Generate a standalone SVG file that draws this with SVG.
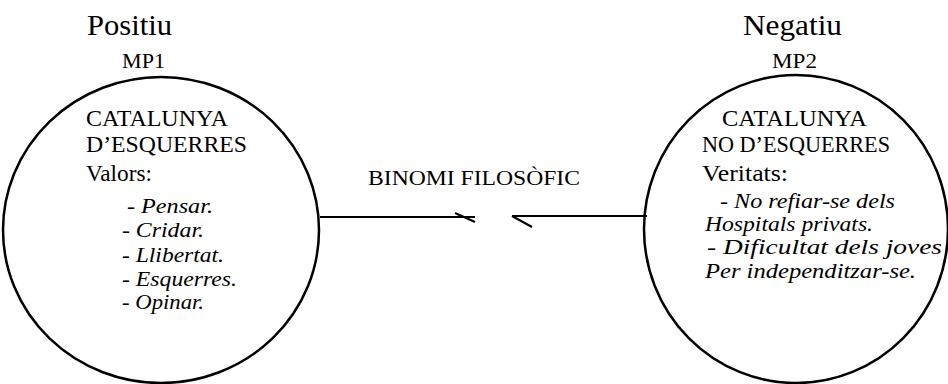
<svg xmlns="http://www.w3.org/2000/svg" width="948" height="384" viewBox="0 0 948 384" font-family="Liberation Serif, Times New Roman, serif">
<style>
.h{font-size:30px}
.m{font-size:22px}
.b{font-size:24px}
.i{font-size:21px;font-style:italic}
.c{fill:none;stroke:#000;stroke-width:2.5}
.l{fill:none;stroke:#000;stroke-width:2}
</style>
<rect width="948" height="384" fill="#fff"/>
<g id="connectors">
<line class="l" x1="320" y1="217" x2="475" y2="217"/>
<line class="l" x1="455" y1="213" x2="475" y2="222"/>
<line class="l" x1="512" y1="216" x2="647" y2="216"/>
<line class="l" x1="512" y1="216" x2="532" y2="227"/>
<text x="368" y="185" font-size="20" font-family="Liberation Serif" textLength="212" lengthAdjust="spacingAndGlyphs">BINOMI FILOSÒFIC</text>
</g>
<g id="mp1" font-family="Liberation Serif">
<ellipse class="c" cx="161" cy="230" rx="158" ry="153"/>
<text class="h" x="87" y="35" textLength="85" lengthAdjust="spacingAndGlyphs">Positiu</text>
<text class="m" x="122" y="68" textLength="43" lengthAdjust="spacingAndGlyphs">MP1</text>
<text class="b" x="86" y="126" textLength="142" lengthAdjust="spacingAndGlyphs">CATALUNYA</text>
<text class="b" x="86" y="152" textLength="161" lengthAdjust="spacingAndGlyphs">D’ESQUERRES</text>
<text class="b" x="86" y="181" textLength="66" lengthAdjust="spacingAndGlyphs">Valors:</text>
<text class="i" x="127" y="213" textLength="86" lengthAdjust="spacingAndGlyphs">- Pensar.</text>
<text class="i" x="122" y="237" textLength="82" lengthAdjust="spacingAndGlyphs">- Cridar.</text>
<text class="i" x="122" y="262" textLength="102" lengthAdjust="spacingAndGlyphs">- Llibertat.</text>
<text class="i" x="122" y="286" textLength="115" lengthAdjust="spacingAndGlyphs">- Esquerres.</text>
<text class="i" x="122" y="309" textLength="82" lengthAdjust="spacingAndGlyphs">- Opinar.</text>
</g>
<g id="mp2" font-family="Liberation Serif">
<ellipse class="c" cx="796" cy="229" rx="152" ry="154"/>
<text class="h" x="743" y="35" textLength="99" lengthAdjust="spacingAndGlyphs">Negatiu</text>
<text class="m" x="772" y="68" textLength="45" lengthAdjust="spacingAndGlyphs">MP2</text>
<text class="b" x="722" y="126" textLength="145" lengthAdjust="spacingAndGlyphs">CATALUNYA</text>
<text class="b" x="702" y="152" textLength="188" lengthAdjust="spacingAndGlyphs">NO D’ESQUERRES</text>
<text class="b" x="702" y="181" textLength="86" lengthAdjust="spacingAndGlyphs">Veritats:</text>
<text class="i" x="720" y="208" textLength="175" lengthAdjust="spacingAndGlyphs">- No refiar-se dels</text>
<text class="i" x="705" y="231" textLength="168" lengthAdjust="spacingAndGlyphs">Hospitals privats.</text>
<text class="i" x="707" y="254" textLength="235" lengthAdjust="spacingAndGlyphs">- Dificultat dels joves</text>
<text class="i" x="705" y="278" textLength="211" lengthAdjust="spacingAndGlyphs">Per independitzar-se.</text>
</g>
</svg>
